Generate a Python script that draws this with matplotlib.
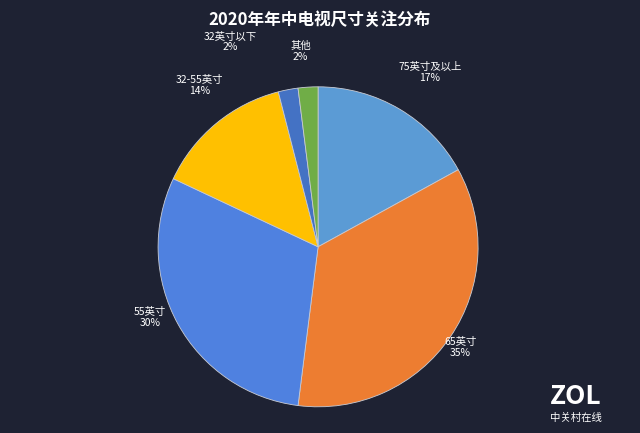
import matplotlib
matplotlib.use("Agg")
import matplotlib.pyplot as plt
from matplotlib import font_manager as fm

names = sorted(set(f.name for f in fm.fontManager.ttflist))
fam = "DejaVu Sans"
for key in ("Noto Sans CJK SC", "Sans CJK SC", "Sans CJK", "CJK"):
    hits = [n for n in names if key in n]
    if hits:
        fam = hits[0]
        break
plt.rcParams['font.family'] = 'sans-serif'
plt.rcParams['font.sans-serif'] = [fam, 'DejaVu Sans']

categories = ["75英寸及以上", "65英寸", "55英寸", "32-55英寸", "32英寸以下", "其他"]
values = [17, 35, 30, 14, 2, 2]
colors = ["#5B9BD5", "#ED7D31", "#4F81E0", "#FFC000", "#4472C4", "#70AD47"]
# label anchor positions in pie-radius units (layout)
label_pos = [(0.70, 1.09), (0.89, -0.63), (-1.05, -0.44), (-0.74, 1.01), (-0.55, 1.28), (-0.11, 1.22)]
bg = "#1E2233"

fig = plt.figure(figsize=(6.4, 4.33), dpi=100, facecolor=bg)
ax = fig.add_axes([0.497 - 0.25, 0.43 - 0.3695, 0.5, 0.739])
ax.set_facecolor(bg)
wedges, _ = ax.pie(values, colors=colors, startangle=90, counterclock=False,
                   wedgeprops=dict(edgecolor="#c8cbd4", linewidth=0.6))
for c, v, (x, y) in zip(categories, values, label_pos):
    ax.text(x, y, f"{c}\n{v}%", color="white", fontsize=7.5,
            ha="center", va="center", clip_on=False, linespacing=1.1)
ax.set_xlim(-1, 1); ax.set_ylim(-1, 1)
ax.set_aspect("equal")
ax.axis("off")
fig.text(0.5, 0.955, "2020年年中电视尺寸关注分布", color="white", fontsize=12,
         fontweight="bold", ha="center", va="center")
fig.text(0.9, 0.085, "ZOL", color="white", fontsize=19, fontweight="bold", ha="center", va="center")
fig.text(0.9, 0.035, "中关村在线", color="white", fontsize=7.5, ha="center", va="center")
fig.savefig("out.png", dpi=100, facecolor=bg)
